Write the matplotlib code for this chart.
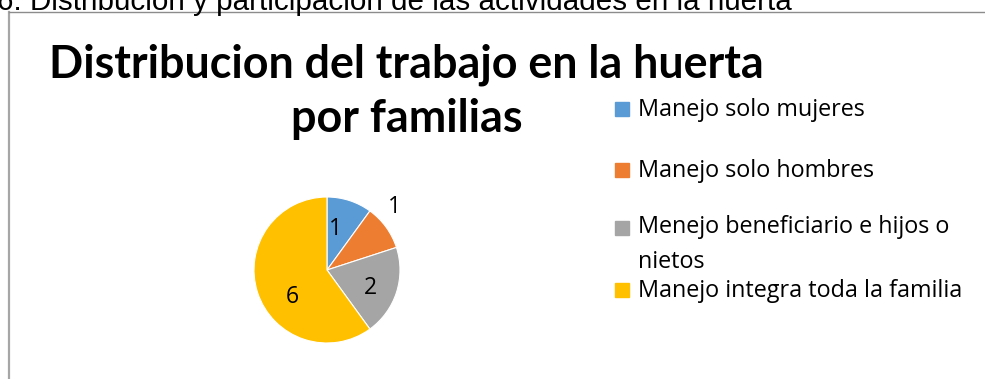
import matplotlib.pyplot as plt
from matplotlib.patches import Rectangle
from matplotlib.lines import Line2D

categorias = ['Manejo solo mujeres', 'Manejo solo hombres',
              'Menejo beneficiario e hijos o\nnietos',
              'Manejo integra toda la familia']
familias = [1, 1, 2, 6]
colores = ['#5B9BD5', '#ED7D31', '#A5A5A5', '#FFC000']

W, H = 985, 379
fig = plt.figure(figsize=(W / 100, H / 100), dpi=100)

def fx(x):
    return x / W

def fy(y):
    return 1 - y / H

# encabezado de la seccion (cortado arriba)
fig.text(fx(-3), fy(10), '6. Distribución y participación de las actividades en la huerta',
         family='Liberation Sans', fontsize=21.3, color='black', ha='left', va='baseline')

# marco del grafico
fig.add_artist(Line2D([fx(9), fx(9)], [fy(12), fy(380)], color='#a6a6a6', lw=1.6))
fig.add_artist(Line2D([fx(9), fx(986)], [fy(12), fy(12)], color='#8c8c8c', lw=1.0))

# titulo
fig.text(fx(406), fy(77), 'Distribucion del trabajo en la huerta',
         family='Lato', weight='bold', fontsize=32.3, ha='center', va='baseline')
fig.text(fx(407), fy(132), 'por familias',
         family='Lato', weight='bold', fontsize=32.3, ha='center', va='baseline')

# pastel
cx, cy, r = 327, 270, 73
ax = fig.add_axes([fx(cx - r), fy(cy + r), 2 * r / W, 2 * r / H])
wedges, _ = ax.pie(familias, colors=colores, startangle=90, counterclock=False,
                   wedgeprops=dict(edgecolor='white', linewidth=0.8))
ax.set_xlim(-1, 1)
ax.set_ylim(-1, 1)
ax.axis('off')

pos_etiquetas = [(0.12, 0.56), (0.93, 0.86), (0.60, -0.25), (-0.47, -0.37)]
for v, (lx, ly) in zip(familias, pos_etiquetas):
    ax.text(lx, ly, str(v), family='Open Sans', fontsize=16.5, ha='center', va='center',
            clip_on=False)

# leyenda: y = linea base de la primera linea de cada entrada
base_y = [116, 177, 235, 297]
interlinea = 33
for cat, col, y in zip(categorias, colores, base_y):
    fig.add_artist(Rectangle((fx(615), fy(y)), 14 / W, 14 / H, color=col,
                             transform=fig.transFigure))
    n = cat.count('\n')
    fig.text(fx(638), fy(y + interlinea * n), cat, family='Open Sans', fontsize=16.8,
             ha='left', va='baseline', linespacing=1.6)

fig.savefig('out.png', dpi=100)
